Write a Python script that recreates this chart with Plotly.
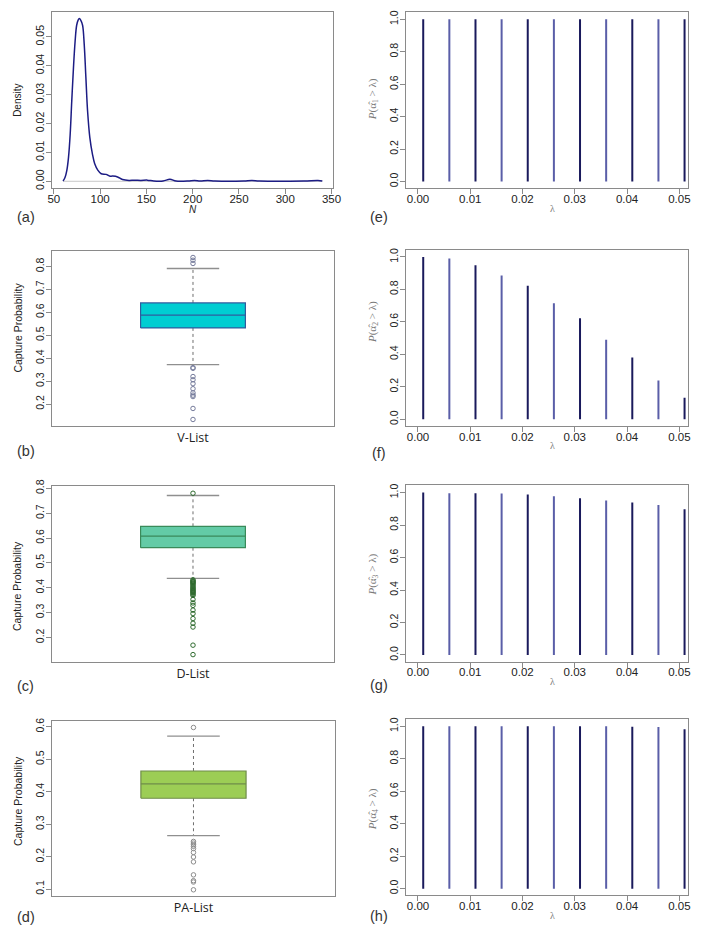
import plotly.graph_objects as go

W, H = 708, 927

# ---------------- data ----------------
# (a) kernel density of N
N_grid = [60, 62, 64.1, 65.9, 67.7, 69.4, 71.2, 73.0, 74.7, 76.3, 77.6, 79.2, 81.1, 82.9, 84.7,
          86.5, 88.9, 91.7, 94.2, 97.7, 101.2, 106.5, 110.1, 113.6, 118.9, 124.2, 131.3, 137,
          144, 151, 158, 168, 175.4, 182, 195, 202, 208, 216.2, 224, 255, 263.9, 272, 320,
          335.3, 340]
density = [0.0001, 0.0012, 0.0038, 0.0083, 0.0163, 0.0277, 0.039, 0.0483, 0.054, 0.0558, 0.0563,
           0.0557, 0.054, 0.0472, 0.0357, 0.0243, 0.0152, 0.0095, 0.0061, 0.0038, 0.0026, 0.0024,
           0.0018, 0.0018, 0.0015, 0.0006, 0.0003, 0.0004, 0.0003, 0.0004, 0.0001, 0.0001, 0.0007,
           0.0001, 0.0001, 0.0003, 0.0001, 0.0003, 0.0001, 0.0001, 0.0003, 0.0001, 0.0001,
           0.0003, 0.0001]

# (b)-(d) boxplot statistics: [lower whisker, Q1, median, Q3, upper whisker]
vlist_stats = [0.372, 0.532, 0.5875, 0.641, 0.791]
vlist_outliers = [0.839, 0.827, 0.813, 0.359, 0.356, 0.320, 0.306, 0.289, 0.267, 0.249,
                  0.239, 0.233, 0.181, 0.133]
dlist_stats = [0.4376, 0.561, 0.6075, 0.647, 0.771]
dlist_outliers = [0.780, 0.432, 0.428, 0.425, 0.422, 0.419, 0.415, 0.410, 0.405, 0.400,
                  0.396, 0.392, 0.388, 0.385, 0.381, 0.378, 0.373, 0.369, 0.353, 0.339,
                  0.329, 0.310, 0.296, 0.276, 0.257, 0.242, 0.169, 0.131]
palist_stats = [0.265, 0.380, 0.4245, 0.464, 0.5716]
palist_outliers = [0.598, 0.247, 0.242, 0.237, 0.232, 0.225, 0.213, 0.199, 0.184, 0.144,
                   0.126, 0.122, 0.098]

# (e)-(h) P(alpha_hat_i > lambda)
lam = [0.001, 0.006, 0.011, 0.016, 0.021, 0.026, 0.031, 0.036, 0.041, 0.046, 0.051]
p_alpha1 = [1.0, 1.0, 1.0, 1.0, 1.0, 1.0, 1.0, 1.0, 1.0, 1.0, 1.0]
p_alpha2 = [1.0, 0.99, 0.949, 0.886, 0.822, 0.714, 0.622, 0.490, 0.380, 0.239, 0.133]
p_alpha3 = [1.0, 0.996, 0.996, 0.994, 0.989, 0.977, 0.965, 0.951, 0.939, 0.923, 0.898]
p_alpha4 = [1.0, 1.0, 1.0, 1.0, 1.0, 1.0, 1.0, 1.0, 0.998, 0.996, 0.982]

# ---------------- layout helpers ----------------
FRAME = "#8a8a8a"
TICKFONT_X = dict(family="Liberation Sans, Arial", size=11.5, color="#222")
TICKFONT_Y = dict(family="Liberation Sans, Arial", size=10.5, color="#222")

# panel boxes in pixels: (left, right, top, bottom)
panels = {
    "a": (48, 334, 5, 183),
    "b": (48, 335, 246, 423),
    "c": (48, 335, 484, 661),
    "d": (48, 336, 721, 898),
    "e": (409, 696, 5, 183),
    "f": (409, 696, 245, 423),
    "g": (409, 696, 483, 661),
    "h": (409, 696, 719, 897),
}
order = ["a", "b", "c", "d", "e", "f", "g", "h"]

fig = go.Figure()
layout = dict(width=W, height=H, margin=dict(l=0, r=0, t=0, b=0),
              paper_bgcolor="white", plot_bgcolor="white", showlegend=False,
              annotations=[])


def axis_names(i):
    return ("x" if i == 0 else f"x{i+1}", "y" if i == 0 else f"y{i+1}")


def base_axis(domain, rng, anchor):
    return dict(domain=domain, range=rng, anchor=anchor, showline=True, mirror=True,
                linecolor=FRAME, linewidth=1, showgrid=False, zeroline=False,
                ticks="outside", ticklen=5, tickcolor=FRAME, tickwidth=1)


yranges = {"a": [-0.0024, 0.0586], "b": [0.105, 0.869], "c": [0.103, 0.808],
           "d": [0.078, 0.618], "e": [-0.041, 1.045], "f": [-0.041, 1.045],
           "g": [-0.041, 1.045], "h": [-0.041, 1.045]}

for i, key in enumerate(order):
    l, r, t, b = panels[key]
    xn, yn = axis_names(i)
    xd = [l / W, r / W]
    yd = [1 - b / H, 1 - t / H]
    xa = base_axis(xd, None, yn)
    ya = base_axis(yd, yranges[key], xn)
    ya.update(tickangle=-90, tickfont=TICKFONT_Y, ticklabelstandoff=-2)
    xa.update(tickfont=TICKFONT_X, ticklabelstandoff=-5)
    if key == "a":
        xa.update(range=[48.2, 351.4], tickmode="array",
                  tickvals=[50, 100, 150, 200, 250, 300, 350])
        ya.update(tickmode="array", tickvals=[0, 0.01, 0.02, 0.03, 0.04, 0.05],
                  tickformat=".2f")
    elif key in ("b", "c", "d"):
        names = {"b": "V-List", "c": "D-List", "d": "PA-List"}
        xa.update(range=[0, 2], tickmode="array", tickvals=[1], ticktext=[names[key]],
                  ticks="", ticklabelstandoff=0,
                  tickfont=dict(family="Open Sans, Liberation Sans", size=12.5, color="#222"))
        tv = {"b": [0.2, 0.3, 0.4, 0.5, 0.6, 0.7, 0.8],
              "c": [0.2, 0.3, 0.4, 0.5, 0.6, 0.7, 0.8],
              "d": [0.1, 0.2, 0.3, 0.4, 0.5, 0.6]}[key]
        ya.update(tickmode="array", tickvals=tv, tickformat=".1f")
    else:
        xa.update(range=[-0.0022, 0.0517], tickmode="array",
                  tickvals=[0, 0.01, 0.02, 0.03, 0.04, 0.05], tickformat=".2f")
        ya.update(tickmode="array", tickvals=[0, 0.2, 0.4, 0.6, 0.8, 1.0], tickformat=".1f")
    layout["xaxis" if i == 0 else f"xaxis{i+1}"] = xa
    layout["yaxis" if i == 0 else f"yaxis{i+1}"] = ya

# ---------------- (a) density ----------------
fig.add_trace(go.Scatter(x=[N_grid[0], N_grid[-1]], y=[0, 0], mode="lines",
                         line=dict(color="#c8c8c8", width=1), xaxis="x", yaxis="y",
                         hoverinfo="skip"))
fig.add_trace(go.Scatter(x=N_grid, y=density, mode="lines", line_shape="spline",
                         line=dict(color="#1c1c84", width=1.5), xaxis="x", yaxis="y"))

# ---------------- (b)-(d) boxplots ----------------
box_specs = [
    ("b", vlist_stats, vlist_outliers, "#00cdd2", "#2f5c9e", "#767c9c"),
    ("c", dlist_stats, dlist_outliers, "#63cba6", "#3a8a5a", "#2f6b2f"),
    ("d", palist_stats, palist_outliers, "#9ccd55", "#6f8c4a", "#8c8c8c"),
]
center, half_w, cap_w = 1.0, 0.372, 0.186
for key, st, outl, fillc, edgec, outc in box_specs:
    i = order.index(key)
    xn, yn = axis_names(i)
    lo, q1, med, q3, hi = st
    # whiskers (dotted)
    fig.add_trace(go.Scatter(x=[center, center, None, center, center],
                             y=[q3, hi, None, q1, lo], mode="lines",
                             line=dict(color="#6e6e6e", width=1, dash="dot"),
                             xaxis=xn, yaxis=yn))
    # caps
    fig.add_trace(go.Scatter(x=[center - cap_w, center + cap_w, None, center - cap_w, center + cap_w],
                             y=[hi, hi, None, lo, lo], mode="lines",
                             line=dict(color="#8f8f8f", width=1.3), xaxis=xn, yaxis=yn))
    # box
    fig.add_trace(go.Scatter(x=[center - half_w, center + half_w, center + half_w,
                                center - half_w, center - half_w],
                             y=[q1, q1, q3, q3, q1], mode="lines", fill="toself",
                             fillcolor=fillc, line=dict(color=edgec, width=1.2),
                             xaxis=xn, yaxis=yn))
    # median
    fig.add_trace(go.Scatter(x=[center - half_w, center + half_w], y=[med, med], mode="lines",
                             line=dict(color=edgec, width=1.3), xaxis=xn, yaxis=yn))
    # outliers
    fig.add_trace(go.Scatter(x=[center] * len(outl), y=outl, mode="markers",
                             marker=dict(symbol="circle-open", size=4.5, color=outc,
                                         line=dict(color=outc, width=1)),
                             xaxis=xn, yaxis=yn))

# ---------------- (e)-(h) probability spikes ----------------
DARK, LIGHT = "#1a1a5c", "#5a5ea8"
for key, vals in zip(["e", "f", "g", "h"], [p_alpha1, p_alpha2, p_alpha3, p_alpha4]):
    i = order.index(key)
    xn, yn = axis_names(i)
    for parity, col in ((0, DARK), (1, LIGHT)):
        xs, ys = [], []
        for k, (lv, pv) in enumerate(zip(lam, vals)):
            if k % 2 == parity:
                xs += [lv, lv, None]
                ys += [0, pv, None]
        fig.add_trace(go.Scatter(x=xs, y=ys, mode="lines", line=dict(color=col, width=2),
                                 xaxis=xn, yaxis=yn))

# ---------------- text annotations ----------------
ann = layout["annotations"]


def add_text(text, x, y, size, color="#222", family="Liberation Sans, Arial", angle=0):
    ann.append(dict(text=text, x=x / W, y=1 - y / H, xref="paper", yref="paper",
                    showarrow=False, textangle=angle, xanchor="center", yanchor="middle",
                    font=dict(family=family, size=size, color=color)))


# panel letters
for key, (x, y) in {"a": (21, 212), "b": (21, 448), "c": (21, 686), "d": (21, 919),
                    "e": (381, 212), "f": (381, 450), "g": (381, 685), "h": (381, 918)}.items():
    add_text(f"({key})", x, y, 14.5, color="#333")

# (a) axis titles
add_text("Density", 12, 94, 10, angle=-90)
add_text("<i>N</i>", 192, 204, 10)

# box y titles
for y in (324, 585, 802):
    add_text("Capture Probability", 13, y, 10.5, angle=-90)

# right panel titles
sub = {"e": "1", "f": "2", "g": "3", "h": "4"}
ycen = {"e": 93, "f": 318, "g": 573, "h": 810}
for key in ["e", "f", "g", "h"]:
    l, r, t, b = panels[key]
    add_text(f"<i>P</i>(α&#770;<sub>{sub[key]}</sub> &gt; λ)", 375, ycen[key], 11,
             color="#7a7a7a", family="Liberation Serif, DejaVu Serif", angle=-90)
    add_text("λ", 558, b + 20, 10, color="#7a7a7a", family="Liberation Serif, DejaVu Serif")

fig.update_layout(**layout)
fig.write_html("out.html")
